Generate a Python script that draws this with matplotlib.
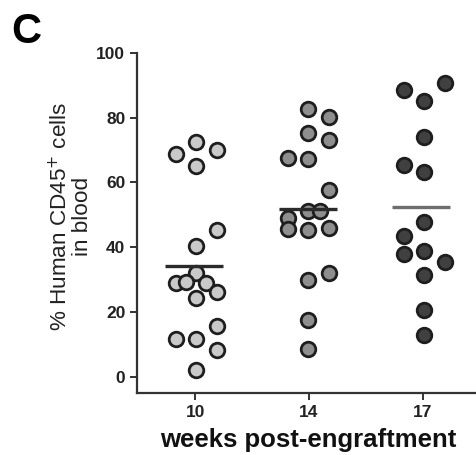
import matplotlib
matplotlib.use("Agg")
import matplotlib.pyplot as plt
import numpy as np

plt.rcParams['font.family'] = ['Liberation Sans', 'DejaVu Sans']

categories = ['10', '14', '17']
values_w10 = [72.6, 68.7, 70.1, 65.1, 45.4, 40.4, 32.0, 28.9, 29.2, 28.9, 26.3, 24.3, 15.7, 11.6, 11.6, 8.3, 2.2]
jitter_w10 = [0.01, -0.17, 0.19, 0.01, 0.19, 0.01, 0.01, -0.17, -0.08, 0.10, 0.19, 0.01, 0.19, -0.17, 0.01, 0.19, 0.01]
values_w14 = [82.6, 80.3, 75.4, 73.1, 67.5, 67.2, 57.7, 51.3, 51.3, 49.0, 45.6, 45.4, 45.9, 29.9, 32.0, 17.6, 8.6]
jitter_w14 = [-0.01, 0.18, -0.01, 0.18, -0.18, -0.01, 0.18, -0.01, 0.10, -0.18, -0.18, -0.01, 0.18, -0.01, 0.18, -0.01, -0.01]
values_w17 = [88.4, 85.0, 90.6, 73.9, 65.4, 63.1, 47.7, 43.5, 37.9, 38.9, 35.6, 31.5, 20.7, 13.0]
jitter_w17 = [-0.165, 0.01, 0.20, 0.01, -0.165, 0.01, 0.01, -0.165, -0.165, 0.01, 0.20, 0.01, 0.01, 0.01]
yticks = [0, 20, 40, 60, 80, 100]

groups = [(values_w10, jitter_w10), (values_w14, jitter_w14), (values_w17, jitter_w17)]
fills = ['#c9c9c9', '#8e8e8e', '#404040']
mean_colors = ['#2a2a2a', '#2a2a2a', '#6e6e6e']

fig = plt.figure(figsize=(4.76, 4.55), dpi=100)
ax = fig.add_axes([0.288, 0.136, 0.712, 0.748])

for i, (vals, jit) in enumerate(groups):
    x = i + np.array(jit)
    ax.plot(x, vals, 'o', ms=10.5, mfc=fills[i], mec='#1e1e1e', mew=2.0,
            clip_on=False, zorder=3)
    m = np.mean(vals)
    ax.plot([i - 0.265, i + 0.245], [m, m], color=mean_colors[i], lw=2.4,
            solid_capstyle='butt', zorder=4)

ax.set_xlim(-0.51, 2.47)
ax.set_ylim(-5, 100)
ax.set_xticks(range(len(categories)))
ax.set_xticklabels(categories)
ax.set_yticks(yticks)
for s in ['top', 'right']:
    ax.spines[s].set_visible(False)
for s in ['left', 'bottom']:
    ax.spines[s].set_linewidth(1.6)
    ax.spines[s].set_color('#333333')
ax.tick_params(axis='both', length=5, width=1.4, color='#333333',
               labelsize=12.5, labelcolor='#222222', pad=3.5)
for lab in ax.get_xticklabels() + ax.get_yticklabels():
    lab.set_fontweight('bold')

fig.text(308 / 476, 1 - 440 / 455, 'weeks post-engraftment',
         ha='center', va='center', fontsize=18.5, fontweight='bold', color='#111111')
fig.text(71 / 476, 1 - 216 / 455, '% Human CD45$^{+}$ cells\nin blood',
         ha='center', va='center', rotation=90, fontsize=16.2, color='#222222',
         linespacing=0.95)
fig.text(11 / 476, 1 - 32 / 455, 'C', ha='left', va='center', fontsize=30,
         fontweight='bold', color='#000000')

fig.savefig('out.png', dpi=100)
